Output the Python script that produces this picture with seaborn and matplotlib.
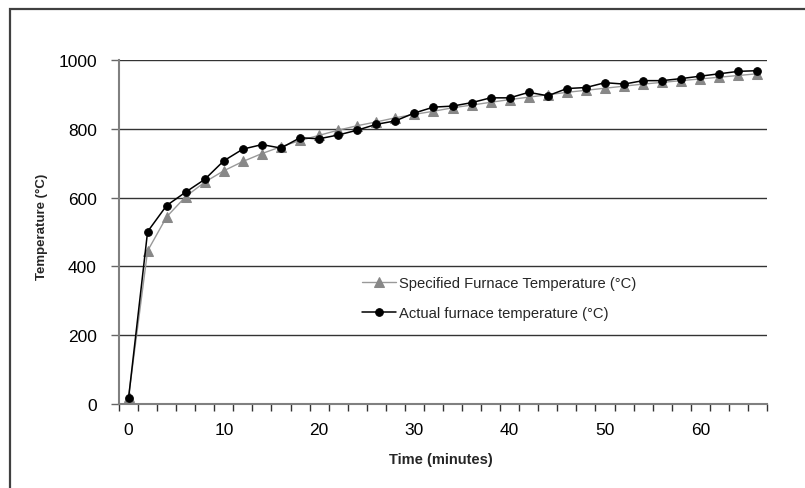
"""
Furnace temperature curve: specified vs actual
"""

import matplotlib
matplotlib.use('Agg')
import matplotlib.pyplot as plt
import matplotlib.patches as patches
from matplotlib.ticker import FixedLocator, NullFormatter
import seaborn as sns
import pandas as pd

# Data
time_min = [0, 2, 4, 6, 8, 10, 12, 14, 16, 18, 20, 22, 24, 26, 28, 30, 32,
            34, 36, 38, 40, 42, 44, 46, 48, 50, 52, 54, 56, 58, 60, 62, 64, 66]
specified_temp = [20, 445, 544, 603, 645, 678, 705, 728, 748, 766, 781, 796,
                  809, 820, 832, 842, 851, 861, 869, 877, 885, 892, 899, 906,
                  912, 918, 924, 930, 935, 940, 945, 950, 955, 960]
actual_temp = [16, 501, 577, 616, 653, 707, 741, 754, 744, 774, 771, 782,
               796, 813, 823, 846, 863, 866, 876, 890, 890, 906, 896, 917,
               920, 934, 930, 940, 940, 946, 953, 960, 967, 969]
x_labels = [0, 10, 20, 30, 40, 50, 60]
y_ticks = [0, 200, 400, 600, 800, 1000]

df = pd.DataFrame({'time': time_min,
                   'specified': specified_temp,
                   'actual': actual_temp})

sns.set_theme(style='white')
plt.rcParams['font.family'] = ['Liberation Sans', 'DejaVu Sans']

fig = plt.figure(figsize=(8.05, 4.89), dpi=100)
ax = fig.add_axes([119 / 805, 1 - 405 / 489, 648 / 805, 344 / 489])

# Grey specified curve underneath, black actual curve on top
sns.lineplot(data=df, x='time', y='specified', ax=ax, color='#999999',
             linewidth=1.0, marker='^', markersize=6.5,
             markerfacecolor='#888888', markeredgecolor='#888888',
             label='Specified Furnace Temperature (\u00b0C)')
sns.lineplot(data=df, x='time', y='actual', ax=ax, color='black',
             linewidth=1.1, marker='o', markersize=5.5,
             markerfacecolor='black', markeredgecolor='black',
             label='Actual furnace temperature (\u00b0C)')

ax.set_xlim(-1, 67)
ax.set_ylim(0, 1000)

# Category style x axis: tick marks between categories, labels every 10 min
ax.xaxis.set_major_locator(FixedLocator(x_labels))
ax.xaxis.set_minor_locator(FixedLocator(list(range(-1, 68, 2))))
ax.xaxis.set_minor_formatter(NullFormatter())
ax.tick_params(axis='x', which='major', length=0, pad=13, labelsize=12.5,
               colors='black')
ax.tick_params(axis='x', which='minor', bottom=True, length=5, width=1,
               direction='out', color='#333333')

ax.set_yticks(y_ticks)
ax.tick_params(axis='y', which='major', left=True, length=6, width=1,
               direction='out', color='#666666', pad=10, labelsize=12.5,
               labelcolor='black')

ax.grid(axis='y', color='#333333', linewidth=1.0)
ax.grid(axis='x', visible=False)
ax.set_axisbelow(True)

for side in ['top', 'right']:
    ax.spines[side].set_visible(False)
for side in ['left', 'bottom']:
    ax.spines[side].set_color('#808080')
    ax.spines[side].set_linewidth(1.5)

ax.set_xlabel('Time (minutes)', fontsize=10.5, fontweight='bold')
ax.set_ylabel('Temperature (\u00b0C)', fontsize=9.5, fontweight='bold')
ax.xaxis.set_label_coords(0.497, -0.16)
ax.xaxis.label.set_va('center')
ax.yaxis.set_label_coords(-0.119, 0.517)
ax.yaxis.label.set_va('center')

leg = ax.legend(loc='center left', bbox_to_anchor=(0.375, 0.308),
                frameon=False, fontsize=10.6, handlelength=2.3,
                handletextpad=0.2, labelspacing=1.05, borderpad=0,
                borderaxespad=0)

# Outer frame of the original chart (left and top edges only visible)
frame = patches.Rectangle((10 / 805, -0.05), 1.5, 1 - 10 / 489 + 0.05,
                          transform=fig.transFigure, fill=False,
                          edgecolor='#404040', linewidth=1.6, clip_on=False)
fig.patches.append(frame)

fig.savefig('out.png', dpi=100)
